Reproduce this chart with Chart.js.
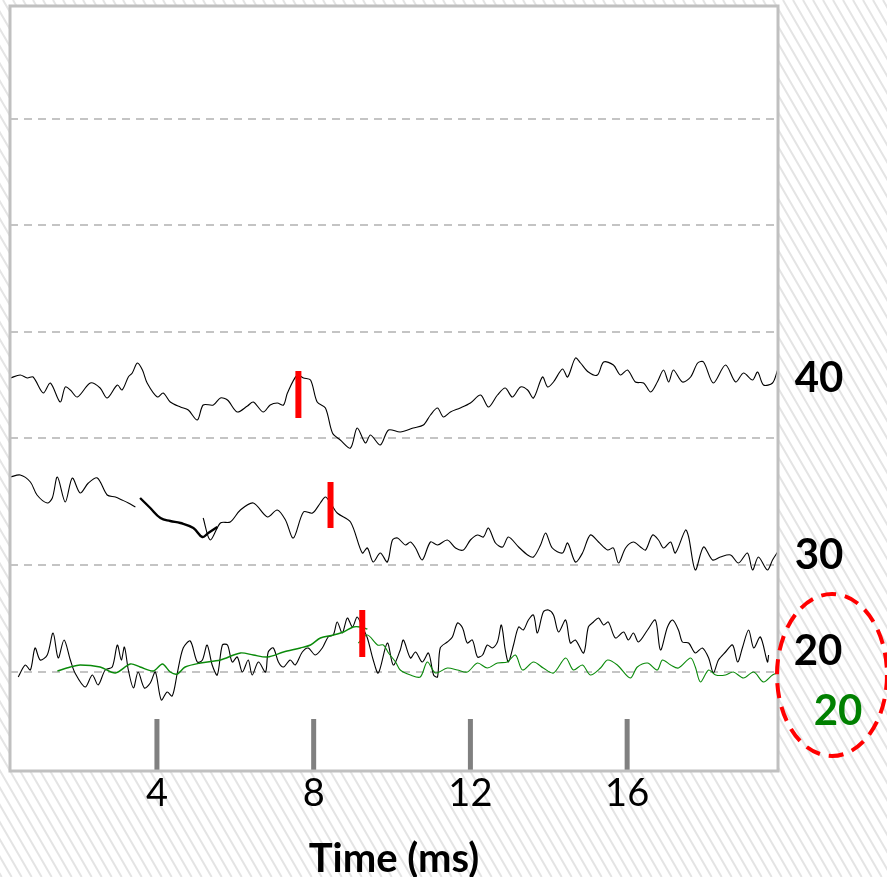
<!DOCTYPE html>
<html>
<head>
<meta charset="utf-8">
<script src="https://cdn.jsdelivr.net/npm/chart.js@4.4.1/dist/chart.umd.min.js"></script>
<style>
  html, body { margin: 0; padding: 0; background: #fff; }
  #wrap { width: 887px; height: 877px; }
  canvas { display: block; }
</style>
</head>
<body>
<div id="wrap"><canvas id="c" width="887" height="877"></canvas></div>
<script>
// ---- Data (time in ms, amplitude relative to each trace baseline) ----
const tickValues = [4, 8, 12, 16];
const tickLabels = ['4', '8', '12', '16'];
const gridLevels = [99, 206, 333, 439, 546, 652];

const topBase = 333, midBase = 206, botBase = 99;
const traceLabels = ['40', '30', '20', '20'];

const topTime = [0.26,0.51,0.69,0.84,1.10,1.28,1.53,1.66,1.79,1.97,2.30,2.55,2.73,2.99,3.11,3.27,3.37,3.50,3.63,3.75,4.01,4.16,4.34,4.60,4.80,5.03,5.18,5.44,5.62,5.80,6.05,6.31,6.46,6.71,6.89,7.07,7.23,7.33,7.58,7.74,7.92,8.09,8.30,8.48,8.68,8.94,9.11,9.32,9.45,9.70,9.91,10.21,10.54,10.80,10.98,11.16,11.31,11.49,11.74,12.00,12.26,12.46,12.69,12.89,13.07,13.28,13.46,13.61,13.84,13.97,14.12,14.35,14.48,14.68,14.81,15.01,15.24,15.40,15.65,15.83,16.01,16.21,16.42,16.60,16.77,16.93,17.06,17.18,17.41,17.62,17.80,17.95,18.20,18.51,18.77,18.97,19.20,19.33,19.48,19.71,19.84];
const topUv = [60,63,60,61,45,55,36,51,48,41,55,50,40,53,48,61,65,75,68,55,41,45,36,31,28,18,33,33,40,38,26,32,36,26,33,35,33,45,63,60,58,36,30,5,-2,-10,10,-5,3,-7,8,6,10,13,23,30,21,26,30,35,43,31,43,50,41,51,48,40,61,51,56,69,61,80,75,66,63,76,73,63,68,56,55,46,56,68,56,68,56,61,75,76,55,73,56,65,58,66,53,55,68];

const midTime = [0.26,0.51,0.77,0.94,1.20,1.33,1.46,1.66,1.84,2.04,2.25,2.48,2.73,2.94,3.11,3.27,3.45,4.30,5.18,5.36,5.62,5.87,6.13,6.46,6.82,7.07,7.28,7.48,7.74,7.97,8.17,8.30,8.43,8.60,8.94,9.24,9.37,9.52,9.70,9.88,10.01,10.14,10.34,10.47,10.60,10.77,10.98,11.16,11.41,11.62,11.82,12.00,12.18,12.33,12.46,12.64,12.82,12.97,13.23,13.46,13.61,13.79,13.92,14.09,14.35,14.48,14.68,14.86,15.06,15.27,15.50,15.65,15.78,15.96,16.16,16.34,16.47,16.65,16.80,16.93,17.11,17.23,17.49,17.57,17.74,17.95,18.18,18.38,18.64,18.84,19.07,19.20,19.35,19.58,19.71,19.84];
const midUv = [88,90,83,70,62,67,88,63,87,72,82,87,70,68,65,62,58,null,47,25,42,43,55,62,48,55,45,27,53,52,62,68,62,52,43,12,17,3,12,3,25,27,20,23,17,5,23,20,25,17,15,25,30,28,37,22,18,28,18,10,8,20,32,17,12,22,3,12,30,23,15,17,2,17,23,18,15,30,25,17,23,12,35,28,-5,18,5,8,10,2,12,-5,8,-5,5,13];

const fitTime = [3.57,3.83,4.09,4.34,4.60,4.93,5.16,5.31,5.54];
const fitUv = [67,57,47,44,42,37,28,32,38];

const botTime = [0.46,0.64,0.77,0.89,1.02,1.20,1.35,1.48,1.63,1.79,1.91,2.17,2.35,2.50,2.68,2.86,2.99,3.09,3.17,3.27,3.40,3.52,3.68,3.83,3.96,4.11,4.26,4.39,4.52,4.67,4.85,5.03,5.16,5.28,5.41,5.54,5.67,5.80,5.92,6.05,6.18,6.33,6.43,6.59,6.77,6.84,6.97,7.10,7.23,7.40,7.53,7.71,7.86,8.04,8.22,8.37,8.50,8.60,8.73,8.86,8.99,9.11,9.24,9.37,9.52,9.65,9.88,10.03,10.21,10.29,10.47,10.60,10.77,10.93,11.06,11.16,11.23,11.41,11.54,11.67,11.80,11.92,12.05,12.18,12.31,12.43,12.56,12.69,12.79,12.89,12.97,13.10,13.23,13.35,13.48,13.61,13.71,13.86,13.99,14.12,14.25,14.43,14.55,14.68,14.89,15.01,15.14,15.27,15.40,15.52,15.70,15.91,16.03,16.16,16.29,16.52,16.72,16.85,17.03,17.16,17.31,17.41,17.57,17.74,17.92,18.08,18.20,18.33,18.51,18.69,18.82,18.94,19.10,19.23,19.40,19.58,19.61];
const botUv = [-5,7,2,24,12,17,39,14,32,12,-1,-15,-3,-13,2,5,27,12,25,2,-16,0,-16,-11,0,-28,-20,-24,-1,24,31,10,12,27,7,-3,27,27,10,15,0,12,-3,10,0,20,24,10,5,12,7,20,24,17,24,35,37,50,39,54,45,55,45,34,12,-1,29,7,22,32,14,20,10,19,-3,-5,24,30,35,49,44,29,32,15,17,27,24,30,47,22,10,27,45,42,52,57,39,60,62,57,40,52,29,32,19,45,50,54,47,50,34,40,32,39,30,42,52,22,45,52,42,30,29,19,24,14,-1,12,20,27,10,24,42,24,35,10,17];

const greenAvgTime = [1.46,1.79,2.04,2.55,2.94,3.32,3.57,3.91,4.14,4.34,4.52,4.72,5.11,5.62,6.13,6.46,6.82,7.23,7.66,7.92,8.17,8.50,8.76,9.01,9.19,9.37];
const greenAvgUv = [1,5,7,5,-1,8,5,1,8,0,-2,5,9,12,19,17,15,20,24,27,34,37,40,45,45,43];

const greenTime = [9.14,9.37,9.63,9.78,9.91,10.09,10.21,10.47,10.72,10.90,11.11,11.41,11.67,11.92,12.18,12.43,12.69,12.94,13.15,13.33,13.61,13.86,14.12,14.43,14.63,14.86,15.06,15.32,15.50,15.75,16.08,16.26,16.52,16.77,16.90,17.11,17.31,17.62,17.74,17.87,18.08,18.26,18.51,18.71,18.97,19.23,19.48,19.71,19.84];
const greenUv = [29,37,27,27,19,10,2,-3,-5,10,-1,4,2,0,9,4,9,10,17,2,10,4,-1,14,2,7,-3,4,12,7,-6,5,9,2,12,7,4,14,5,-10,2,-3,-3,0,-6,0,-10,-3,-1];

// onset markers: time and [low, high] amplitude relative to baseline
const markerTime = [7.61, 8.43, 9.24];
const markerLow = [20, 37, 15];
const markerHigh = [67, 83, 62];
const markerBase = [topBase, midBase, botBase];

// ---- build datasets ----
function pts(times, vals, base) {
  return times.map((t, i) => ({ x: t, y: vals[i] == null ? null : base + vals[i] }));
}
const datasets = [];
markerTime.forEach((t, i) => {
  datasets.push({
    data: [{ x: t, y: markerBase[i] + markerLow[i] }, { x: t, y: markerBase[i] + markerHigh[i] }],
    borderColor: '#ff0000', borderWidth: 6, pointRadius: 0, borderCapStyle: 'butt'
  });
});
datasets.push({ data: pts(greenAvgTime, greenAvgUv, botBase), borderColor: '#0a8a0a', borderWidth: 1.4, pointRadius: 0, tension: 0.3 });
datasets.push({ data: pts(greenTime, greenUv, botBase), borderColor: '#0a8a0a', borderWidth: 1.1, pointRadius: 0, tension: 0.3 });
datasets.push({ data: pts(fitTime, fitUv, midBase), borderColor: '#000', borderWidth: 2.4, pointRadius: 0, tension: 0.4 });
datasets.push({ data: pts(topTime, topUv, topBase), borderColor: '#000', borderWidth: 1.1, pointRadius: 0, tension: 0.3 });
datasets.push({ data: pts(midTime, midUv, midBase), borderColor: '#000', borderWidth: 1.1, pointRadius: 0, tension: 0.3, spanGaps: false });
datasets.push({ data: pts(botTime, botUv, botBase), borderColor: '#000', borderWidth: 1.1, pointRadius: 0, tension: 0.3 });

// ---- plugins ----
const hatchPlugin = {
  id: 'hatch',
  beforeDraw(chart) {
    const { ctx, width, height, chartArea: a } = chart;
    ctx.save();
    ctx.fillStyle = '#ffffff';
    ctx.fillRect(0, 0, width, height);
    ctx.strokeStyle = '#e4e4e4';
    ctx.lineWidth = 2;
    ctx.beginPath();
    for (let x0 = -height; x0 < width + 20; x0 += 10) {
      ctx.moveTo(x0, 0);
      ctx.lineTo(x0 + height * 0.58, height);
    }
    ctx.stroke();
    ctx.fillStyle = '#ffffff';
    ctx.fillRect(a.left, a.top, a.right - a.left, a.bottom - a.top);
    ctx.restore();
  }
};

const frameTicksPlugin = {
  id: 'frameTicks',
  afterDatasetsDraw(chart) {
    const { ctx, chartArea: a, scales } = chart;
    ctx.save();
    ctx.strokeStyle = '#808080';
    ctx.lineWidth = 5;
    ctx.beginPath();
    scales.x.ticks.forEach(tk => {
      const px = scales.x.getPixelForValue(tk.value);
      ctx.moveTo(px, a.bottom - 52);
      ctx.lineTo(px, a.bottom);
    });
    ctx.stroke();
    ctx.strokeStyle = '#c0c0c0';
    ctx.lineWidth = 3;
    ctx.strokeRect(a.left, a.top, a.right - a.left, a.bottom - a.top);
    ctx.restore();
  }
};

const labelPlugin = {
  id: 'traceLabels',
  afterDraw(chart) {
    const { ctx, chartArea: a, scales } = chart;
    const y = scales.y;
    const items = [
      { text: traceLabels[0], color: '#000', x: a.right + 41, v: topBase + 60 },
      { text: traceLabels[1], color: '#000', x: a.right + 41, v: midBase + 10 },
      { text: traceLabels[2], color: '#000', x: a.right + 40, v: botBase + 21 },
      { text: traceLabels[3], color: '#008000', x: a.right + 60, v: botBase - 39 }
    ];
    ctx.save();
    ctx.font = 'bold 42px Lato';
    ctx.textAlign = 'center';
    ctx.textBaseline = 'middle';
    items.forEach(it => {
      ctx.fillStyle = it.color;
      ctx.fillText(it.text, it.x, y.getPixelForValue(it.v));
    });
    // dashed ellipse around the two "20" labels
    const cy = y.getPixelForValue(botBase - 3);
    ctx.strokeStyle = '#ff0000';
    ctx.lineWidth = 4;
    ctx.setLineDash([15, 9]);
    ctx.beginPath();
    ctx.ellipse(a.right + 54, cy, 55, 81, 0, 0, Math.PI * 2);
    ctx.stroke();
    ctx.restore();
  }
};

new Chart(document.getElementById('c'), {
  type: 'line',
  data: { datasets },
  options: {
    responsive: false,
    animation: false,
    layout: { padding: { left: 10, top: 6, right: 109, bottom: 0 } },
    plugins: { legend: { display: false }, tooltip: { enabled: false } },
    scales: {
      x: {
        type: 'linear', min: 0.25, max: 19.85,
        afterBuildTicks: s => { s.ticks = tickValues.map(v => ({ value: v })); },
        afterFit: s => { s.height = 106; },
        grid: { display: false, drawTicks: false },
        border: { display: false },
        ticks: {
          autoSkip: false, maxRotation: 0, padding: 0, color: '#000',
          font: { family: 'Lato', size: 38 },
          callback: v => tickLabels[tickValues.indexOf(v)]
        },
        title: {
          display: true, text: 'Time (ms)', color: '#000',
          font: { family: 'Lato', size: 40, weight: 'bold', lineHeight: 0.9 },
          padding: { top: 0, bottom: 0 }
        }
      },
      y: {
        type: 'linear', min: 0, max: 765,
        afterBuildTicks: s => { s.ticks = gridLevels.map(v => ({ value: v })); },
        afterFit: s => { s.width = 0; },
        grid: { color: '#c4c4c4', lineWidth: 2, drawTicks: false },
        border: { display: false, dash: [8, 6] },
        ticks: { display: false }
      }
    }
  },
  plugins: [hatchPlugin, frameTicksPlugin, labelPlugin]
});
</script>
</body>
</html>
